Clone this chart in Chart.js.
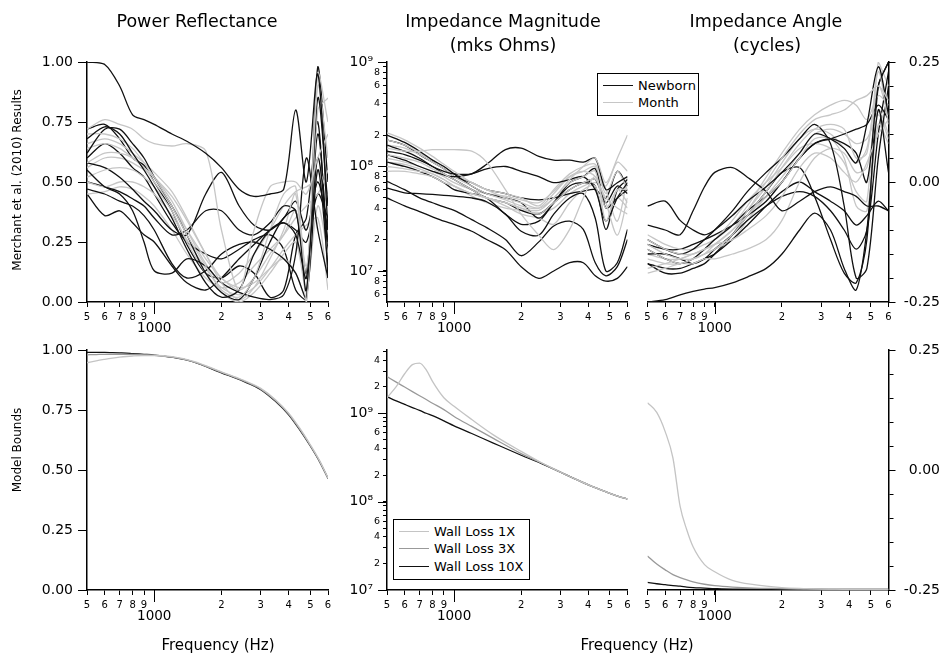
<!DOCTYPE html>
<html>
<head>
<meta charset="utf-8">
<script src="https://cdn.jsdelivr.net/npm/chart.js@4.4.1/dist/chart.umd.min.js"></script>
<style>
  body { margin: 0; background: #fff; width: 945px; height: 661px; position: relative; overflow: hidden;
         font-family: "DejaVu Sans", sans-serif; color: #000; }
  canvas { position: absolute; left: 0; top: 0; }
  .t { position: absolute; transform: translate(-50%, -50%); white-space: nowrap; }
  .title { font-size: 17.5px; }
  .xt { font-size: 15px; }
  .rot { position: absolute; transform: translate(-50%, -50%) rotate(-90deg); white-space: nowrap; font-size: 12px; }
  .leg { position: absolute; border: 1px solid #000; background: #fff; font-size: 13px; }
  .leg .row { position: absolute; left: 0; height: 16px; line-height: 16px; white-space: nowrap; }
  .leg .ln { position: absolute; left: 5px; top: 7px; width: 30px; height: 0; border-top: 1.5px solid #000; }
  .leg .tx { position: absolute; left: 40px; top: 0; }
</style>
</head>
<body>
<canvas id="c1" width="945" height="661"></canvas>
<canvas id="c2" width="945" height="661"></canvas>
<canvas id="c3" width="945" height="661"></canvas>
<canvas id="c4" width="945" height="661"></canvas>
<canvas id="c5" width="945" height="661"></canvas>
<canvas id="c6" width="945" height="661"></canvas>

<div class="t title" style="left:197px;top:21px">Power Reflectance</div>
<div class="t title" style="left:503px;top:21px">Impedance Magnitude</div>
<div class="t title" style="left:503px;top:45px">(mks Ohms)</div>
<div class="t title" style="left:766px;top:21px">Impedance Angle</div>
<div class="t title" style="left:767px;top:45px">(cycles)</div>
<div class="rot" style="left:17px;top:180px">Merchant et al. (2010) Results</div>
<div class="rot" style="left:17px;top:450px">Model Bounds</div>
<div class="t xt" style="left:218px;top:645px">Frequency (Hz)</div>
<div class="t xt" style="left:637px;top:645px">Frequency (Hz)</div>

<div class="leg" style="left:597px;top:73px;width:100px;height:41px">
  <div class="row" style="top:4px"><span class="ln" style="border-color:#111"></span><span class="tx">Newborn</span></div>
  <div class="row" style="top:21px"><span class="ln" style="border-color:#c6c6c6"></span><span class="tx">Month</span></div>
</div>
<div class="leg" style="left:393px;top:519px;width:135px;height:59px">
  <div class="row" style="top:4px"><span class="ln" style="border-color:#c4c4c4"></span><span class="tx">Wall Loss 1X</span></div>
  <div class="row" style="top:21px"><span class="ln" style="border-color:#999"></span><span class="tx">Wall Loss 3X</span></div>
  <div class="row" style="top:39px"><span class="ln" style="border-color:#111"></span><span class="tx">Wall Loss 10X</span></div>
</div>

<script>
// frequency grids (Hz)
const freqTop = [500, 600, 700, 800, 900, 1000, 1200, 1400, 1700, 2000, 2400, 2800, 3300, 3800, 4300, 4800, 5400, 6000];
const freqModel = [500, 550, 600, 650, 700, 750, 800, 900, 1000, 1200, 1500, 2000, 2500, 3000, 3500, 4000, 4500, 5000, 5500, 6000];

// x ticks shared by every panel
const xTicks = [500, 600, 700, 800, 900, 1000, 2000, 3000, 4000, 5000, 6000];
const xLabels = ['5', '6', '7', '8', '9', '1000', '2', '3', '4', '5', '6'];

const reflTicks = [0, 0.25, 0.5, 0.75, 1];
const angTicks = [-0.25, -0.2, -0.15, -0.1, -0.05, 0, 0.05, 0.1, 0.15, 0.2, 0.25];
const angLabels = ['-0.25', '', '', '', '', '0.00', '', '', '', '', '0.25'];

const magTicksTop = [6e6, 7e6, 8e6, 9e6, 1e7, 2e7, 3e7, 4e7, 5e7, 6e7, 7e7, 8e7, 9e7, 1e8,
  2e8, 3e8, 4e8, 5e8, 6e8, 7e8, 8e8, 9e8, 1e9];
const magLabelsTop = ['6', '', '8', '', '10\u2077\u2002', '2', '', '4', '', '6', '', '8', '', '10\u2078\u2002',
  '2', '', '4', '', '6', '', '8', '', '10\u2079\u2002'];
const magTicksModel = [1e7, 2e7, 3e7, 4e7, 5e7, 6e7, 7e7, 8e7, 9e7, 1e8, 2e8, 3e8, 4e8, 5e8, 6e8, 7e8, 8e8, 9e8,
  1e9, 2e9, 3e9, 4e9, 5e9];
const magLabelsModel = ['10\u2077\u2002', '2', '', '4', '', '6', '', '', '', '10\u2078\u2002', '2', '', '4', '', '6', '', '', '',
  '10\u2079\u2002', '2', '', '4', ''];

// Merchant et al. power reflectance
const reflNewborn = [
  [1.00, 0.99, 0.90, 0.78, 0.76, 0.74, 0.70, 0.67, 0.62, 0.56, 0.47, 0.44, 0.45, 0.47, 0.80, 0.50, 0.95, 0.30],
  [0.68, 0.73, 0.70, 0.62, 0.55, 0.48, 0.35, 0.22, 0.08, 0.02, 0.05, 0.20, 0.30, 0.33, 0.28, 0.10, 0.60, 0.25],
  [0.62, 0.72, 0.72, 0.66, 0.60, 0.52, 0.40, 0.28, 0.12, 0.04, 0.01, 0.10, 0.25, 0.35, 0.38, 0.05, 0.85, 0.40],
  [0.47, 0.45, 0.42, 0.40, 0.36, 0.30, 0.16, 0.10, 0.13, 0.20, 0.24, 0.25, 0.22, 0.18, 0.12, 0.02, 0.55, 0.15],
  [0.55, 0.48, 0.45, 0.38, 0.25, 0.13, 0.12, 0.18, 0.15, 0.08, 0.04, 0.02, 0.01, 0.03, 0.20, 0.60, 0.30, 0.10],
  [0.58, 0.56, 0.52, 0.47, 0.42, 0.38, 0.30, 0.28, 0.45, 0.54, 0.40, 0.32, 0.30, 0.35, 0.42, 0.30, 0.50, 0.30],
  [0.50, 0.48, 0.46, 0.43, 0.40, 0.35, 0.28, 0.30, 0.38, 0.38, 0.30, 0.28, 0.33, 0.40, 0.38, 0.12, 0.70, 0.20],
  [0.45, 0.36, 0.38, 0.33, 0.28, 0.25, 0.15, 0.08, 0.05, 0.10, 0.18, 0.24, 0.30, 0.33, 0.30, 0.25, 0.45, 0.35],
  [0.60, 0.66, 0.62, 0.56, 0.52, 0.45, 0.33, 0.25, 0.20, 0.18, 0.22, 0.26, 0.28, 0.22, 0.05, 0.01, 0.98, 0.50],
  [0.72, 0.74, 0.68, 0.60, 0.57, 0.50, 0.38, 0.24, 0.12, 0.10, 0.15, 0.12, 0.02, 0.05, 0.28, 0.35, 0.75, 0.10]
];
const reflMonth = [
  [0.72, 0.76, 0.74, 0.72, 0.68, 0.66, 0.65, 0.66, 0.63, 0.30, 0.05, 0.30, 0.48, 0.50, 0.50, 0.45, 0.60, 0.70],
  [0.70, 0.70, 0.68, 0.64, 0.58, 0.52, 0.40, 0.28, 0.15, 0.05, 0.02, 0.10, 0.30, 0.45, 0.48, 0.10, 0.90, 0.60],
  [0.66, 0.68, 0.66, 0.62, 0.58, 0.54, 0.46, 0.35, 0.20, 0.08, 0.01, 0.06, 0.18, 0.30, 0.45, 0.00, 0.80, 0.85],
  [0.58, 0.62, 0.62, 0.60, 0.56, 0.50, 0.40, 0.30, 0.18, 0.10, 0.05, 0.10, 0.20, 0.28, 0.38, 0.15, 0.55, 0.45],
  [0.52, 0.55, 0.56, 0.55, 0.52, 0.48, 0.38, 0.25, 0.12, 0.04, 0.00, 0.04, 0.12, 0.20, 0.25, 0.05, 0.40, 0.20],
  [0.50, 0.48, 0.50, 0.50, 0.48, 0.45, 0.36, 0.26, 0.14, 0.06, 0.03, 0.06, 0.14, 0.22, 0.28, 0.32, 0.35, 0.05],
  [0.45, 0.46, 0.48, 0.47, 0.44, 0.40, 0.30, 0.20, 0.10, 0.06, 0.08, 0.15, 0.22, 0.28, 0.35, 0.40, 0.45, 0.55],
  [0.64, 0.66, 0.64, 0.60, 0.56, 0.52, 0.44, 0.34, 0.20, 0.10, 0.06, 0.08, 0.14, 0.18, 0.12, 0.00, 0.95, 0.75],
  [0.56, 0.60, 0.60, 0.58, 0.55, 0.52, 0.42, 0.30, 0.16, 0.08, 0.12, 0.20, 0.30, 0.40, 0.46, 0.48, 0.50, 0.40]
];

// Merchant et al. impedance magnitude (mks ohms)
const magNewborn = [
  [5.0e7, 4.2e7, 3.7e7, 3.3e7, 3.0e7, 2.8e7, 2.4e7, 2.0e7, 1.6e7, 1.1e7, 8.5e6, 1.0e7, 1.2e7, 1.2e7, 9e6, 8e6, 8.5e6, 1.1e7],
  [7.2e7, 6.0e7, 5.0e7, 4.5e7, 4.1e7, 3.8e7, 3.1e7, 2.6e7, 2.0e7, 1.4e7, 1.9e7, 2.7e7, 3.0e7, 2.5e7, 1.2e7, 9e6, 1.1e7, 2.0e7],
  [6.2e7, 5.6e7, 5.5e7, 5.4e7, 5.3e7, 5.2e7, 5.0e7, 4.6e7, 3.5e7, 2.4e7, 2.2e7, 3.5e7, 5.0e7, 5.5e7, 3.2e7, 1.0e7, 1.2e7, 2.5e7],
  [1.3e8, 1.15e8, 1.0e8, 9e7, 8.3e7, 8e7, 8.5e7, 1.05e8, 1.45e8, 1.5e8, 1.25e8, 1.15e8, 1.15e8, 1.1e8, 1.2e8, 6e7, 7e7, 8e7],
  [1.6e8, 1.4e8, 1.2e8, 1.0e8, 9e7, 8.5e7, 8.5e7, 9.5e7, 1.0e8, 9e7, 8e7, 7e7, 7.5e7, 8e7, 6e7, 3e7, 5e7, 7e7],
  [2.0e8, 1.7e8, 1.4e8, 1.15e8, 1.0e8, 8.5e7, 6.5e7, 5.5e7, 5e7, 4.5e7, 3.2e7, 4.5e7, 7e7, 8e7, 9.5e7, 4e7, 5e7, 6e7],
  [1.4e8, 1.3e8, 1.15e8, 1.0e8, 8.5e7, 7.5e7, 6e7, 5e7, 4.5e7, 3.8e7, 3.5e7, 4.5e7, 6e7, 7e7, 7.5e7, 4.5e7, 6.5e7, 5.5e7],
  [1.1e8, 1.0e8, 9e7, 8e7, 7e7, 6e7, 5.5e7, 5e7, 3.5e7, 2.8e7, 3e7, 4.5e7, 6.5e7, 7e7, 6.5e7, 2.5e7, 6e7, 7.5e7],
  [1.8e8, 1.6e8, 1.3e8, 1.1e8, 9.5e7, 8e7, 7e7, 6e7, 5.5e7, 5e7, 4.8e7, 5e7, 5.5e7, 5.8e7, 6e7, 5e7, 9e7, 6.5e7]
];
const magMonth = [
  [1.5e8, 1.4e8, 1.4e8, 1.45e8, 1.45e8, 1.45e8, 1.4e8, 1.1e8, 6e7, 3.5e7, 2.2e7, 1.6e7, 2.5e7, 5e7, 8e7, 4e7, 6e7, 6e7],
  [2.1e8, 1.8e8, 1.5e8, 1.25e8, 1.05e8, 9e7, 7e7, 6e7, 5e7, 4.5e7, 4e7, 5e7, 7.5e7, 1.0e8, 1.2e8, 7e7, 1.2e8, 2.0e8],
  [1.3e8, 1.2e8, 1.1e8, 9.5e7, 8.5e7, 7.5e7, 6e7, 5e7, 4.5e7, 4e7, 3.8e7, 5e7, 7e7, 8e7, 9e7, 3e7, 6e7, 4.5e7],
  [1.0e8, 9.5e7, 9e7, 8.5e7, 7.5e7, 6.5e7, 5.5e7, 5e7, 4.5e7, 4e7, 3.5e7, 4.5e7, 6e7, 7e7, 7.5e7, 5e7, 4e7, 3.5e7],
  [1.6e8, 1.5e8, 1.3e8, 1.1e8, 9.5e7, 8e7, 6.5e7, 5.5e7, 4.8e7, 4.2e7, 4e7, 5.5e7, 8e7, 9e7, 8e7, 4.5e7, 2.2e7, 5e7],
  [9e7, 9e7, 8.5e7, 8e7, 7e7, 6.5e7, 5.5e7, 5e7, 4.2e7, 3.5e7, 3.2e7, 2.8e7, 4.5e7, 6e7, 6.5e7, 3e7, 5e7, 4e7],
  [1.2e8, 1.1e8, 1.0e8, 9e7, 8e7, 7e7, 6e7, 5.5e7, 5.2e7, 4.8e7, 4.5e7, 5.8e7, 8e7, 9e7, 1.0e8, 5.5e7, 9e7, 6e7],
  [1.8e8, 1.6e8, 1.35e8, 1.15e8, 1.0e8, 8.5e7, 7e7, 6e7, 5.5e7, 5e7, 4.2e7, 6e7, 8.5e7, 1.0e8, 1.05e8, 6e7, 3e7, 8e7],
  [1.1e8, 1.05e8, 9.5e7, 8.5e7, 7.5e7, 6.5e7, 5.2e7, 4.5e7, 4e7, 3.8e7, 3.6e7, 4e7, 5.5e7, 6.5e7, 7e7, 6.5e7, 1.1e8, 9e7]
];

// Merchant et al. impedance angle (cycles)
const angNewborn = [
  [-0.25, -0.245, -0.235, -0.228, -0.223, -0.22, -0.21, -0.198, -0.18, -0.15, -0.10, -0.065, -0.10, -0.18, -0.225, -0.10, 0.15, 0.02],
  [-0.05, -0.04, -0.08, -0.10, -0.11, -0.10, -0.07, -0.04, -0.01, 0.02, 0.06, 0.10, 0.09, 0.07, 0.04, 0.12, 0.24, 0.14],
  [-0.09, -0.10, -0.11, -0.06, -0.01, 0.02, 0.03, 0.01, -0.02, -0.06, -0.04, -0.02, -0.01, -0.02, -0.03, -0.05, -0.05, -0.06],
  [-0.12, -0.14, -0.15, -0.14, -0.12, -0.10, -0.06, -0.02, 0.02, 0.05, 0.09, 0.12, 0.08, -0.05, -0.20, -0.18, 0.05, 0.20],
  [-0.14, -0.16, -0.17, -0.16, -0.14, -0.12, -0.09, -0.06, -0.03, 0.00, 0.05, 0.08, 0.09, 0.08, 0.06, 0.00, 0.20, 0.25],
  [-0.17, -0.18, -0.18, -0.17, -0.16, -0.15, -0.12, -0.09, -0.05, -0.02, 0.00, -0.02, -0.04, -0.06, -0.09, -0.07, -0.04, -0.06],
  [-0.15, -0.15, -0.16, -0.17, -0.16, -0.14, -0.11, -0.08, -0.05, -0.03, -0.02, -0.03, -0.06, -0.10, -0.14, -0.10, 0.10, 0.23],
  [-0.13, -0.14, -0.14, -0.13, -0.12, -0.11, -0.09, -0.07, -0.04, 0.00, 0.05, 0.08, 0.09, 0.10, 0.11, 0.12, 0.16, 0.13],
  [-0.17, -0.19, -0.19, -0.18, -0.17, -0.15, -0.11, -0.07, -0.02, 0.02, 0.03, -0.03, -0.12, -0.19, -0.21, -0.12, 0.20, 0.25]
];
const angMonth = [
  [-0.12, -0.14, -0.15, -0.15, -0.14, -0.13, -0.10, -0.06, 0.00, 0.05, 0.10, 0.13, 0.14, 0.15, 0.17, 0.18, 0.20, 0.17],
  [-0.14, -0.16, -0.17, -0.16, -0.15, -0.14, -0.11, -0.07, -0.02, 0.03, 0.08, 0.11, 0.12, 0.11, 0.05, 0.06, 0.23, 0.12],
  [-0.13, -0.15, -0.16, -0.16, -0.15, -0.13, -0.10, -0.07, -0.03, 0.00, 0.05, 0.09, 0.09, 0.05, -0.05, -0.06, 0.12, 0.08],
  [-0.18, -0.17, -0.16, -0.15, -0.14, -0.13, -0.12, -0.10, -0.07, -0.03, 0.03, 0.06, 0.05, 0.02, 0.00, 0.04, 0.10, 0.13],
  [-0.19, -0.18, -0.17, -0.17, -0.16, -0.16, -0.15, -0.14, -0.12, -0.08, 0.00, 0.05, 0.07, 0.06, 0.02, 0.03, 0.15, 0.10],
  [-0.11, -0.13, -0.14, -0.14, -0.13, -0.12, -0.09, -0.05, 0.01, 0.06, 0.11, 0.14, 0.16, 0.17, 0.16, 0.13, 0.18, 0.16],
  [-0.15, -0.16, -0.16, -0.15, -0.14, -0.12, -0.08, -0.04, 0.00, 0.03, 0.07, 0.08, 0.07, 0.04, -0.02, -0.04, 0.25, 0.20],
  [-0.16, -0.17, -0.17, -0.16, -0.15, -0.14, -0.12, -0.08, -0.03, 0.01, 0.06, 0.10, 0.11, 0.10, 0.08, 0.09, 0.14, 0.09],
  [-0.13, -0.15, -0.16, -0.17, -0.16, -0.15, -0.11, -0.06, -0.01, 0.04, 0.09, 0.11, 0.10, 0.07, 0.04, 0.07, 0.20, 0.14]
];

// model bounds, wall loss 1X / 3X / 10X
const reflModel1x = [0.947, 0.955, 0.961, 0.966, 0.970, 0.973, 0.975, 0.977, 0.977, 0.972, 0.953, 0.909, 0.875, 0.840, 0.792, 0.737, 0.672, 0.605, 0.539, 0.467];
const reflModel3x = [0.980, 0.981, 0.982, 0.982, 0.982, 0.982, 0.982, 0.980, 0.978, 0.970, 0.951, 0.907, 0.872, 0.837, 0.788, 0.733, 0.668, 0.602, 0.537, 0.466];
const reflModel10x = [0.990, 0.990, 0.990, 0.989, 0.988, 0.987, 0.985, 0.982, 0.979, 0.970, 0.950, 0.905, 0.870, 0.835, 0.785, 0.730, 0.665, 0.600, 0.535, 0.465];

const magModel1x = [1.5e9, 2.0e9, 2.8e9, 3.55e9, 3.7e9, 3.1e9, 2.3e9, 1.5e9, 1.2e9, 8.5e8, 5.7e8, 3.7e8, 2.7e8, 2.15e8, 1.8e8, 1.55e8, 1.38e8, 1.24e8, 1.14e8, 1.07e8];
const magModel3x = [2.6e9, 2.25e9, 1.98e9, 1.76e9, 1.58e9, 1.43e9, 1.3e9, 1.1e9, 9.2e8, 7.1e8, 5.2e8, 3.5e8, 2.7e8, 2.17e8, 1.81e8, 1.56e8, 1.38e8, 1.24e8, 1.14e8, 1.07e8];
const magModel10x = [1.54e9, 1.38e9, 1.26e9, 1.16e9, 1.08e9, 1.0e9, 9.4e8, 8.2e8, 7.2e8, 5.9e8, 4.6e8, 3.35e8, 2.65e8, 2.15e8, 1.8e8, 1.55e8, 1.38e8, 1.24e8, 1.14e8, 1.07e8];

const angModel1x = [0.14, 0.12, 0.08, 0.025, -0.076, -0.125, -0.16, -0.197, -0.212, -0.23, -0.239, -0.245, -0.247, -0.248, -0.248, -0.249, -0.249, -0.249, -0.249, -0.249];
const angModel3x = [-0.179, -0.196, -0.208, -0.218, -0.224, -0.229, -0.233, -0.238, -0.241, -0.244, -0.246, -0.247, -0.248, -0.248, -0.249, -0.249, -0.249, -0.249, -0.249, -0.249];
const angModel10x = [-0.234, -0.237, -0.239, -0.241, -0.242, -0.244, -0.245, -0.246, -0.247, -0.248, -0.248, -0.249, -0.249, -0.249, -0.249, -0.249, -0.249, -0.249, -0.249, -0.249];

const NEWBORN = '#111111';
const MONTH = '#c6c6c6';
const W1X = '#c4c4c4';
const W3X = '#999999';
const W10X = '#111111';

Chart.defaults.font.family = '"DejaVu Sans", sans-serif';
Chart.defaults.color = '#000';

// longer tick marks at the labelled "major" values
const longTicks = {
  id: 'longTicks',
  afterDraw(chart, args, opts) {
    const ctx = chart.ctx;
    ctx.save();
    ctx.strokeStyle = '#000';
    ctx.lineWidth = 1;
    (opts.marks || []).forEach(m => {
      const s = chart.scales[m.axis];
      m.values.forEach(v => {
        const p = Math.round(s.getPixelForValue(v)) + 0.5;
        ctx.beginPath();
        if (m.axis === 'x') {
          ctx.moveTo(p, s.top); ctx.lineTo(p, s.top + m.len);
        } else if (s.position === 'left') {
          ctx.moveTo(s.right, p); ctx.lineTo(s.right - m.len, p);
        } else {
          ctx.moveTo(s.left, p); ctx.lineTo(s.left + m.len, p);
        }
        ctx.stroke();
      });
    });
    ctx.restore();
  }
};

function line(xs, ys, color, smooth) {
  return {
    data: ys.map((y, i) => ({ x: xs[i], y: y })),
    borderColor: color,
    borderWidth: 1.3,
    pointRadius: 0,
    fill: false,
    tension: smooth ? 0 : 0.3,
    cubicInterpolationMode: smooth ? 'monotone' : 'default'
  };
}

function interleave(a, b) {
  const out = [];
  const n = Math.max(a.length, b.length);
  for (let i = 0; i < n; i++) {
    if (a[i]) out.push(line(freqTop, a[i], NEWBORN));
    if (b[i]) out.push(line(freqTop, b[i], MONTH));
  }
  return out;
}

const axisGrid = len => ({
  display: true, drawOnChartArea: false, drawTicks: true,
  tickLength: len, tickColor: '#000', tickWidth: 1
});
const axisBorder = { display: true, color: '#000', width: 1.5 };

function xAxis() {
  return {
    type: 'logarithmic', min: 500, max: 6000,
    afterBuildTicks: s => { s.ticks = xTicks.map(v => ({ value: v })); },
    afterFit: s => { s.height = 40; },
    ticks: {
      autoSkip: false, maxRotation: 0, minRotation: 0, padding: 4,
      callback: (v, i) => (xTicks[i] === 1000 ? ['', xLabels[i]] : xLabels[i]),
      font: c => (c.tick && c.tick.value === 1000 ? { size: 13.5, lineHeight: 0.87 } : { size: 10 })
    },
    grid: axisGrid(5),
    border: axisBorder
  };
}

function reflAxis() {
  return {
    type: 'linear', min: 0, max: 1,
    afterBuildTicks: s => { s.ticks = reflTicks.map(v => ({ value: v })); },
    afterFit: s => { s.width = 70; },
    ticks: { padding: 5, font: { size: 14 }, callback: v => Number(v).toFixed(2) },
    grid: axisGrid(9),
    border: axisBorder
  };
}

function magAxis(min, max, tv, tl) {
  return {
    type: 'logarithmic', min: min, max: max,
    afterBuildTicks: s => { s.ticks = tv.map(v => ({ value: v })); },
    afterFit: s => { s.width = 60; },
    ticks: {
      autoSkip: false, padding: 3,
      callback: (v, i) => tl[i],
      font: c => (tl[c.index] && tl[c.index].startsWith('10') ? { size: 14 } : { size: 9.5 })
    },
    grid: axisGrid(4),
    border: axisBorder
  };
}

function angAxis() {
  return {
    type: 'linear', position: 'right', min: -0.25, max: 0.25,
    afterBuildTicks: s => { s.ticks = angTicks.map(v => ({ value: v })); },
    afterFit: s => { s.width = 51.5; },
    ticks: { autoSkip: false, crossAlign: 'far', font: { size: 14 }, callback: (v, i) => angLabels[i] },
    grid: axisGrid(5),
    border: axisBorder
  };
}

function panel(id, box, yScale, datasets, marks) {
  const pad = {
    left: box.right ? box.l : box.l - box.yW,
    right: box.right ? 945 - box.r - box.yW : 945 - box.r,
    top: box.t,
    bottom: 661 - box.b - 40
  };
  return new Chart(document.getElementById(id), {
    type: 'line',
    data: { datasets: datasets },
    options: {
      responsive: false,
      animation: false,
      layout: { padding: pad },
      scales: { x: xAxis(), y: yScale },
      plugins: {
        legend: { display: false },
        tooltip: { enabled: false },
        longTicks: { marks: [{ axis: 'x', values: [1000], len: 12 }].concat(marks || []) }
      }
    },
    plugins: [longTicks]
  });
}

const majors = [1e7, 1e8, 1e9];

panel('c1', { l: 87, r: 328, t: 62, b: 302, yW: 70 }, reflAxis(),
  interleave(reflNewborn, reflMonth));
panel('c2', { l: 387, r: 627.5, t: 62, b: 302, yW: 60 }, magAxis(5.05e6, 1e9, magTicksTop, magLabelsTop),
  interleave(magNewborn, magMonth), [{ axis: 'y', values: majors, len: 9 }]);
panel('c3', { l: 647.5, r: 888.5, t: 62, b: 302, yW: 51.5, right: true }, angAxis(),
  interleave(angNewborn, angMonth), [{ axis: 'y', values: [-0.25, 0, 0.25], len: 7 }]);

panel('c4', { l: 87, r: 328, t: 350, b: 590, yW: 70 }, reflAxis(), [
  line(freqModel, reflModel1x, W1X, true),
  line(freqModel, reflModel3x, W3X, true),
  line(freqModel, reflModel10x, W10X, true)
]);
panel('c5', { l: 387, r: 627.5, t: 350, b: 590, yW: 60 }, magAxis(1e7, 5.2e9, magTicksModel, magLabelsModel), [
  line(freqModel, magModel1x, W1X, true),
  line(freqModel, magModel3x, W3X, true),
  line(freqModel, magModel10x, W10X, true)
], [{ axis: 'y', values: majors, len: 9 }]);
panel('c6', { l: 647.5, r: 888.5, t: 350, b: 590, yW: 51.5, right: true }, angAxis(), [
  line(freqModel, angModel1x, W1X, true),
  line(freqModel, angModel3x, W3X, true),
  line(freqModel, angModel10x, W10X, true)
], [{ axis: 'y', values: [-0.25, 0, 0.25], len: 7 }]);
</script>
</body>
</html>
